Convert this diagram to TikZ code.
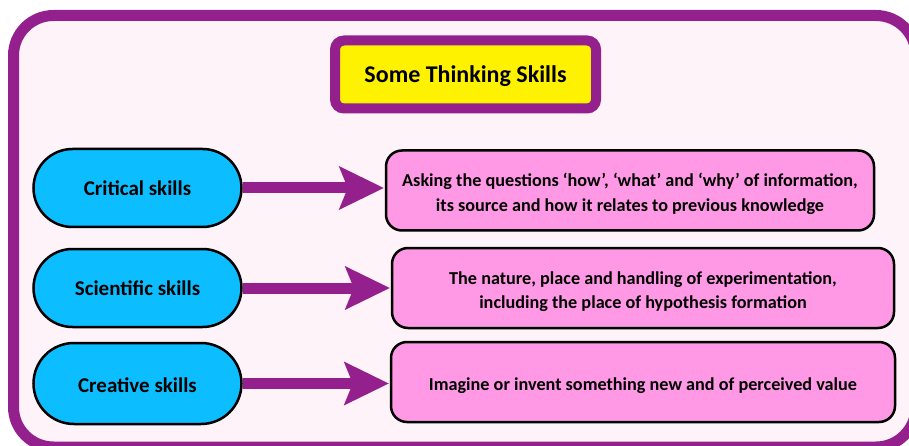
\documentclass[tikz,border=0pt]{standalone}
\usepackage{fontspec}
\setmainfont{Carlito}
\usetikzlibrary{arrows.meta,shapes.misc}
\definecolor{frame}{RGB}{147,32,141}
\definecolor{bgpink}{RGB}{253,243,248}
\definecolor{skillblue}{RGB}{12,190,255}
\definecolor{descpink}{RGB}{255,153,230}
\newcommand{\dropstrut}{\rule{0pt}{20pt}}
\tikzset{
  skill/.style={rounded rectangle, draw=black, line width=2.5pt, fill=skillblue,
    minimum width=208pt, minimum height=78pt, font=\fontsize{21}{25}\selectfont\bfseries, inner sep=0pt},
  desc/.style={rectangle, rounded corners=16pt, draw=black, line width=2.5pt, fill=descpink,
    minimum height=80pt, align=center, font=\fontsize{18.2}{24.5}\selectfont\bfseries, inner sep=0pt},
  arr/.style={draw=frame, line width=11pt, -{Stealth[length=45pt,width=44pt,inset=9pt,line width=0pt]}, shorten >=1pt},
  titlebox/.style={rectangle, rounded corners=9pt, draw=frame, line width=10pt, fill=yellow,
    minimum width=261pt, minimum height=68pt, font=\fontsize{24}{28}\selectfont\bfseries, inner sep=0pt}
}
\begin{document}
\begin{tikzpicture}[x=1pt,y=-1pt]
\useasboundingbox (0,0) rectangle (909,446);
\clip (0,0) rectangle (909,446);
\draw[draw=frame, fill=bgpink, line width=11pt, rounded corners=40pt] (13.5,15.5) rectangle (916,447);
\node[titlebox] (title) at (465.5,74.5) {\rule{0pt}{21pt}Some Thinking Skills};
\node[skill] (c1) at (137.5,188) {Critical skills};
\node[skill] (c2) at (137.5,288) {Scientific skills};
\node[skill, minimum height=81pt] (c3) at (137.5,383.5) {\rule{0pt}{18pt}Creative skills};
\node[desc, minimum width=488pt] (d1) at (630,190.5) {\dropstrut Asking the questions ‘how’, ‘what’ and ‘why’ of information,\\its source and how it relates to previous knowledge};
\node[desc, minimum width=502pt] (d2) at (643,288) {\dropstrut The nature, place and handling of experimentation,\\including the place of hypothesis formation};
\node[desc, minimum width=504pt] (d3) at (643,382) {\dropstrut Imagine or invent something new and of perceived value};
\draw[arr] (c1.east) -- (c1.east -| d1.west);
\draw[arr] (c2.east) -- (c2.east -| d2.west);
\draw[arr] (c3.east) -- (c3.east -| d3.west);
\end{tikzpicture}
\end{document}
